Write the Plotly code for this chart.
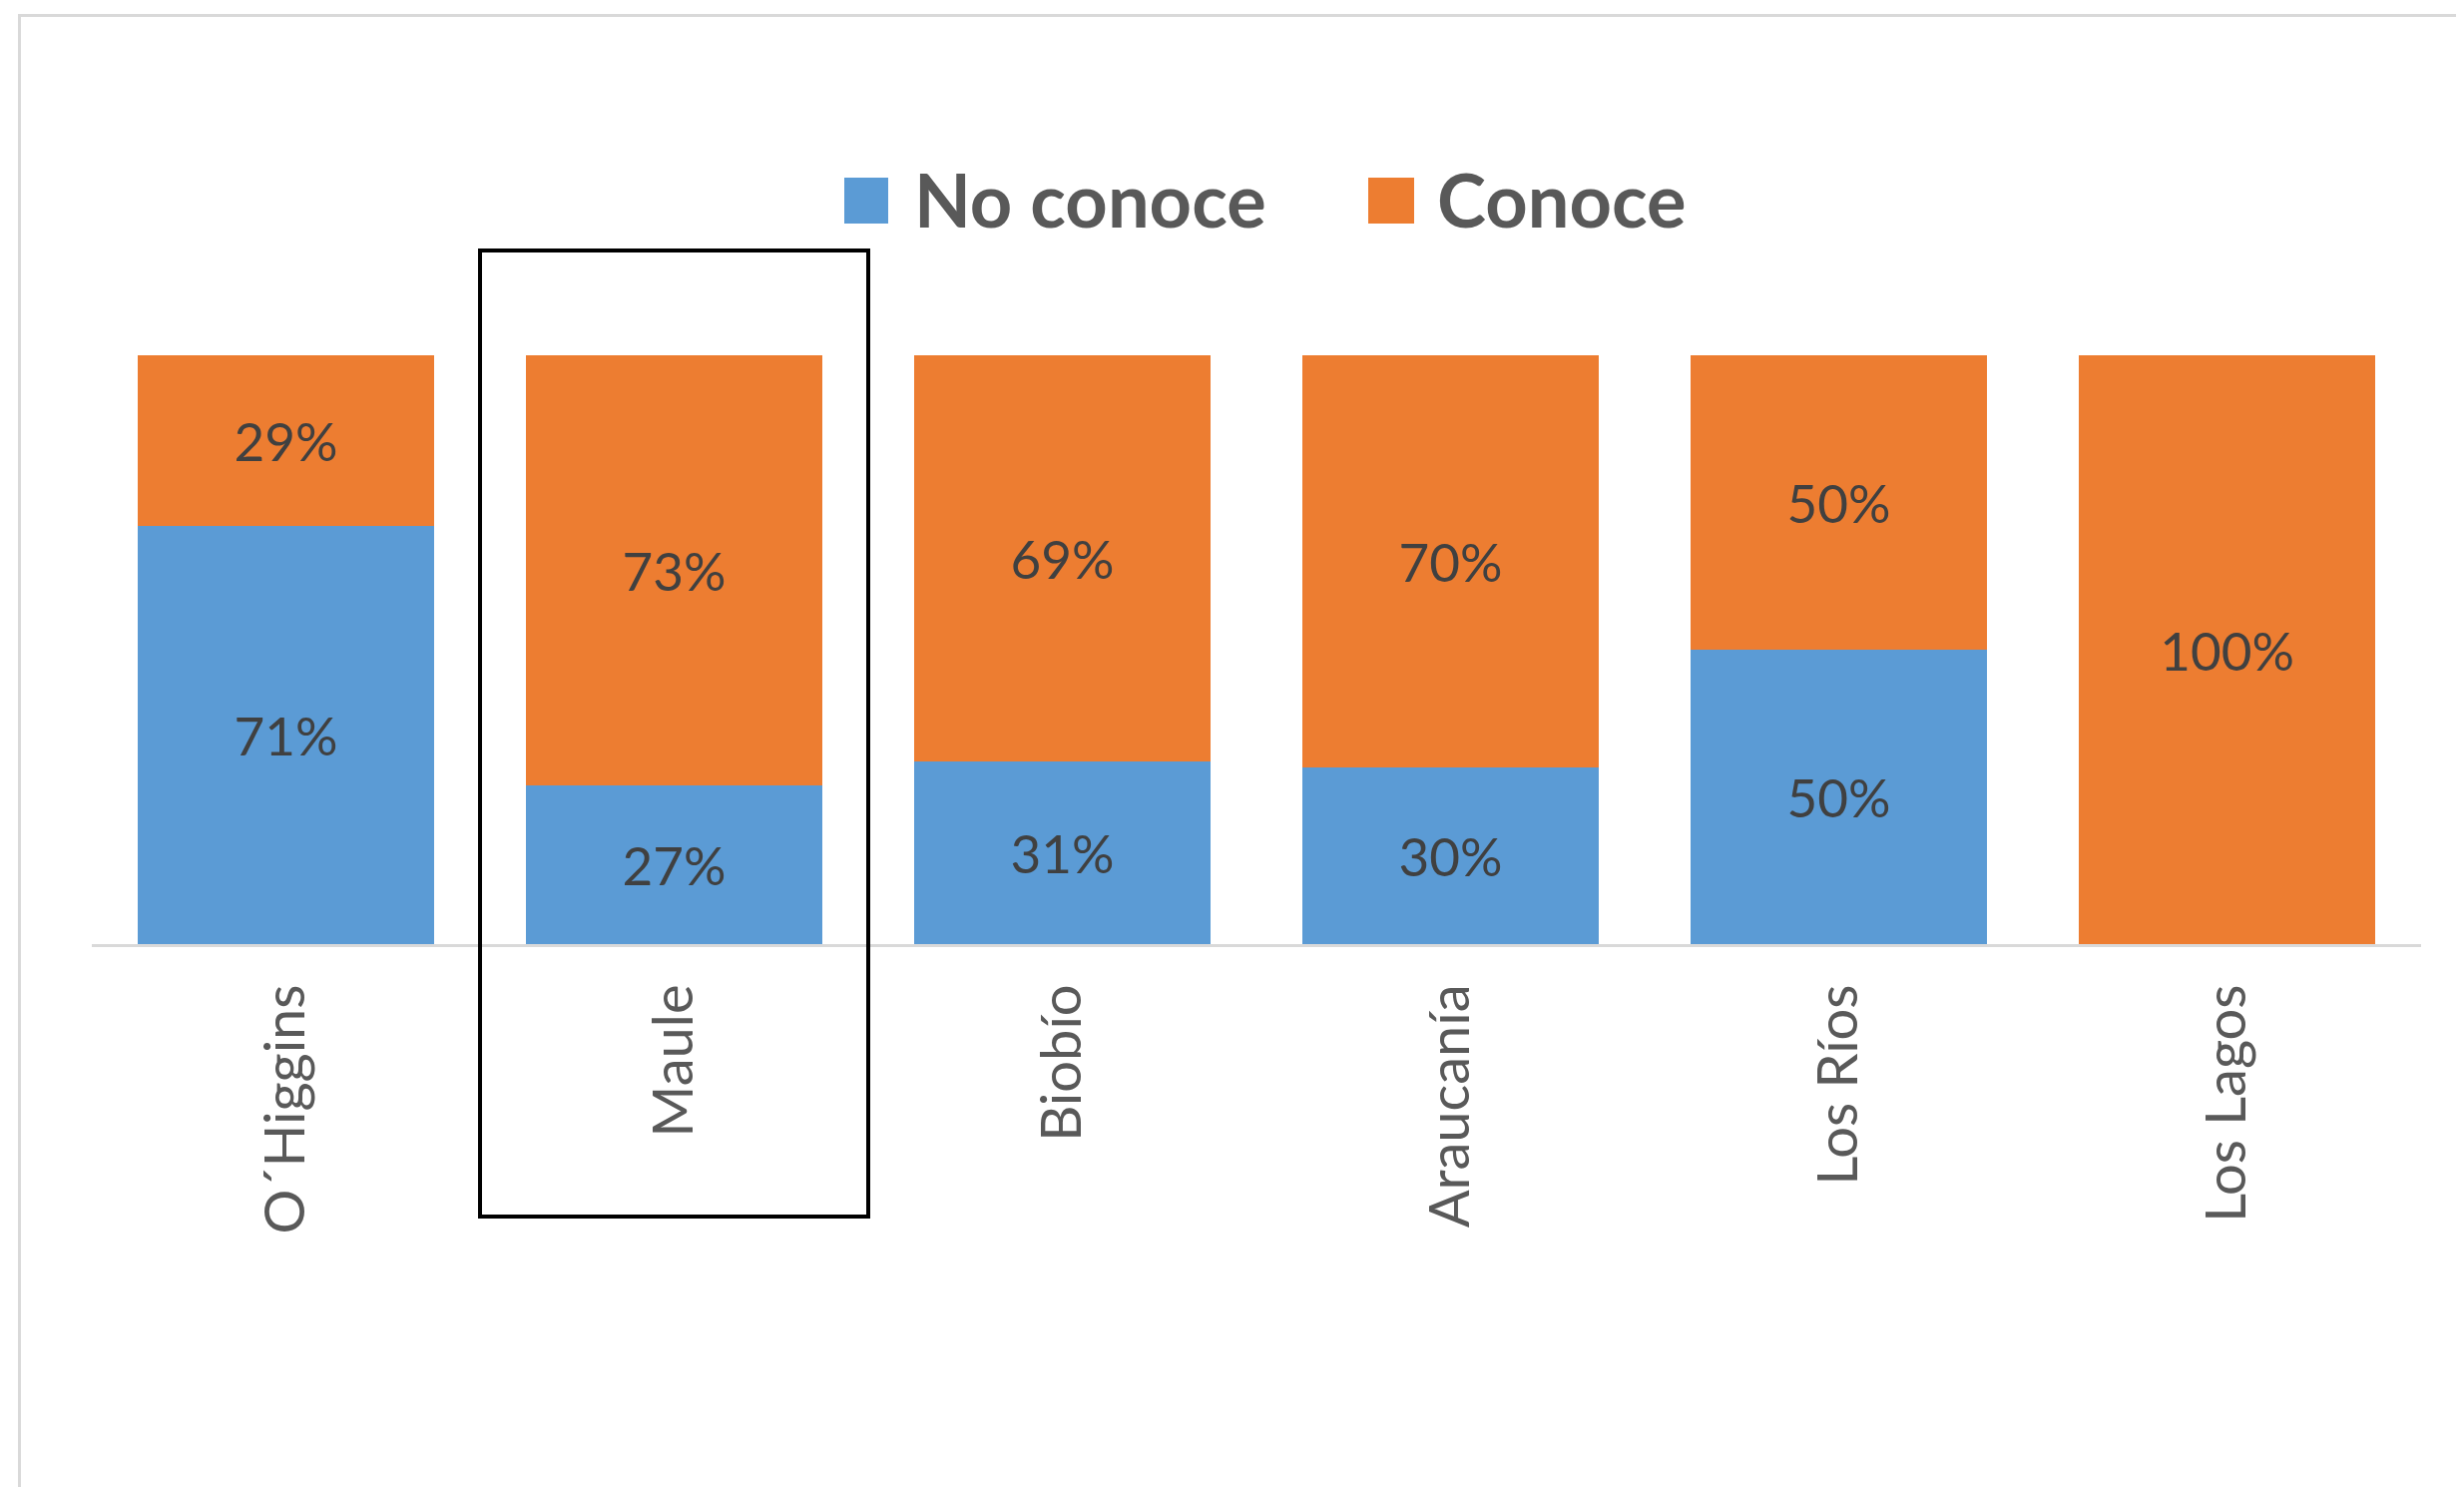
import plotly.graph_objects as go

# ---- data ----
regions = ["O´Higgins", "Maule", "Biobío", "Araucanía", "Los Ríos", "Los Lagos"]
no_conoce = [71, 27, 31, 30, 50, 0]
conoce = [29, 73, 69, 70, 50, 100]
series_names = ["No conoce", "Conoce"]
series_colors = ["#5B9BD5", "#ED7D31"]
highlight = "Maule"

# ---- layout geometry (pixels) ----
OFF = 8  # default page body margin
W, H = 2469 - OFF, 1490 - OFF
L, R, T, B = 92 - OFF, 43, 356 - OFF, 544
pw, ph = W - L - R, H - T - B


def px_x(p):
    """page pixel -> paper x"""
    return (p - OFF - L) / pw


def px_y(p):
    """page pixel -> paper y"""
    return (H - B - (p - OFF)) / ph


FONT = "Lato"
fig = go.Figure()
for name, vals, col in zip(series_names, [no_conoce, conoce], series_colors):
    fig.add_trace(go.Bar(
        x=regions,
        y=[v / 100 for v in vals],
        name=name,
        marker=dict(color=col, line=dict(width=0)),
        text=[f"{v}%" if v > 0 else "" for v in vals],
        textposition="inside",
        insidetextanchor="middle",
        textangle=0,
        textfont=dict(family=FONT, size=53, color="#404040"),
        showlegend=False,
    ))

n = len(regions)
idx = regions.index(highlight)

shapes = [
    # outer chart border
    dict(type="rect", xref="paper", yref="paper",
         x0=px_x(19.5), x1=px_x(2500), y0=px_y(1520), y1=px_y(15.5),
         line=dict(color="#D9D9D9", width=3), layer="below"),
    # highlight box around a category
    dict(type="rect", xref="paper", yref="paper",
         x0=idx / n, x1=(idx + 1) / n, y0=px_y(1219), y1=px_y(251),
         line=dict(color="#000000", width=4), layer="above"),
]

annotations = []
legend_sq = [(846, 890), (1371, 1417)]
legend_tx = [917, 1441]
for name, col, (a, b), tx in zip(series_names, series_colors, legend_sq, legend_tx):
    shapes.append(dict(type="rect", xref="paper", yref="paper",
                       x0=px_x(a), x1=px_x(b), y0=px_y(224), y1=px_y(178),
                       fillcolor=col, line=dict(width=0)))
    annotations.append(dict(xref="paper", yref="paper", x=px_x(tx - 3), y=px_y(199),
                            xanchor="left", yanchor="middle", showarrow=False,
                            text=f"<b>{name}</b>",
                            font=dict(family=FONT, size=74, color="#595959")))

fig.update_layout(
    width=W, height=H,
    margin=dict(l=L, r=R, t=T, b=B, pad=0),
    barmode="stack",
    bargap=0.234,
    paper_bgcolor="white",
    plot_bgcolor="white",
    showlegend=False,
    shapes=shapes,
    annotations=annotations,
    xaxis=dict(
        showline=True, linecolor="#D9D9D9", linewidth=3,
        showgrid=False, zeroline=False,
        tickangle=-90,
        ticks="outside", ticklen=15, tickcolor="rgba(0,0,0,0)",
        tickfont=dict(family=FONT, size=56, color="#595959"),
        fixedrange=True,
    ),
    yaxis=dict(visible=False, range=[0, 1], fixedrange=True),
)

fig.write_html("out.html")
